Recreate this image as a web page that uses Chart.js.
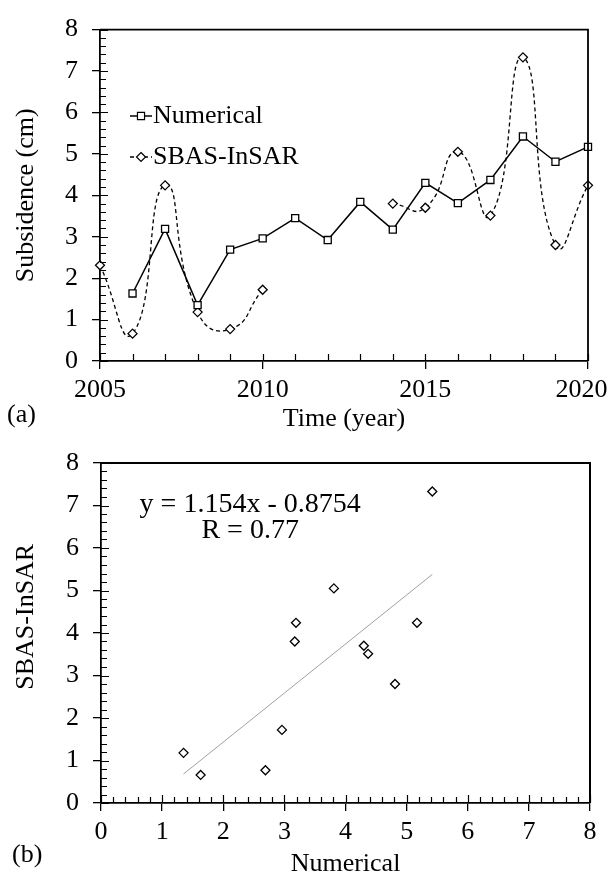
<!DOCTYPE html>
<html>
<head>
<meta charset="utf-8">
<script src="https://cdn.jsdelivr.net/npm/chart.js@4.4.1/dist/chart.umd.min.js"></script>
<style>
html,body{margin:0;padding:0;background:#fff;width:611px;height:872px;overflow:hidden;}
canvas{position:absolute;left:0;}
</style>
</head>
<body>
<canvas id="ca" width="611" height="440" style="top:0px"></canvas>
<canvas id="cb" width="611" height="450" style="top:430px"></canvas>
<script>
// ---------- data ----------
const years = [2005,2006,2007,2008,2009,2010,2011,2012,2013,2014,2015,2016,2017,2018,2019,2020];
const numerical = [null,1.63,3.19,1.35,2.69,2.96,3.45,2.92,3.84,3.17,4.30,3.81,4.37,5.42,4.81,5.17];
const sbasInsar = [2.31,0.66,4.24,1.18,0.77,1.72,null,null,null,3.80,3.70,5.05,3.51,7.33,2.80,4.24];
const seriesNames = ['Numerical','SBAS-InSAR'];
const yearTickLabels = [2005,2010,2015,2020];
const subsidenceTicks = [0,1,2,3,4,5,6,7,8];
const scatterTicks = [0,1,2,3,4,5,6,7,8];
const fitSlope = 1.154;
const fitIntercept = -0.8754;
const fitR = 0.77;
const titlesA = {x:'Time (year)', y:'Subsidence (cm)', panel:'(a)'};
const titlesB = {x:'Numerical', y:'SBAS-InSAR', panel:'(b)'};

// ---------- common ----------
const FONT = 'Liberation Serif, Times New Roman, serif';
Chart.defaults.font.family = FONT;
Chart.defaults.font.size = 26;
Chart.defaults.color = '#000';

function marker(ctx, style, x, y, r){
  ctx.save();
  ctx.beginPath();
  if(style === 'rect'){
    const s = r*Math.SQRT1_2;
    ctx.rect(x-s, y-s, 2*s, 2*s);
  } else {
    ctx.moveTo(x, y-r); ctx.lineTo(x+r, y); ctx.lineTo(x, y+r); ctx.lineTo(x-r, y); ctx.closePath();
  }
  ctx.fillStyle = '#fff'; ctx.fill();
  ctx.strokeStyle = '#000'; ctx.lineWidth = 1.2; ctx.stroke();
  ctx.restore();
}

const framePlugin = {
  id: 'frame',
  afterDraw(chart, args, opts){
    const ctx = chart.ctx;
    const {left, right, top, bottom} = chart.chartArea;
    ctx.save();
    ctx.strokeStyle = '#000';
    ctx.lineWidth = opts.frameWidth || 1.6;
    ctx.beginPath();
    ctx.moveTo(left, top); ctx.lineTo(right, top); ctx.lineTo(right, bottom);
    ctx.stroke();
    ctx.lineWidth = 1.2;
    (opts.inner || []).forEach(spec => {
      const sc = chart.scales[spec.scale];
      const n = Math.round((spec.to - spec.from)/spec.step);
      ctx.beginPath();
      for(let k=0;k<=n;k++){
        const v = spec.from + k*spec.step;
        const isMajor = (k % spec.majorEvery) === 0;
        const len = isMajor ? spec.majorLen : spec.minorLen;
        const p = Math.round(sc.getPixelForValue(v)) + 0.5;
        if(spec.scale === 'x'){
          ctx.moveTo(p, bottom); ctx.lineTo(p, bottom - len);
        } else {
          ctx.moveTo(left, p); ctx.lineTo(left + len, p);
        }
      }
      ctx.stroke();
    });
    // panel label
    if(opts.panel){
      ctx.font = '26px ' + FONT;
      ctx.fillStyle = '#000';
      ctx.textAlign = 'left';
      ctx.textBaseline = 'middle';
      ctx.fillText(opts.panel.text, opts.panel.x, opts.panel.y);
    }
    ctx.restore();
  }
};

const legendPlugin = {
  id: 'lineLegend',
  afterDraw(chart, args, opts){
    if(!opts.items) return;
    const ctx = chart.ctx;
    ctx.save();
    opts.items.forEach((it, i) => {
      const ds = chart.data.datasets[i];
      ctx.strokeStyle = '#000';
      ctx.lineWidth = ds.borderWidth;
      ctx.setLineDash(ds.borderDash || []);
      ctx.beginPath();
      ctx.moveTo(opts.x1, it.y); ctx.lineTo(opts.x2, it.y);
      ctx.stroke();
      ctx.setLineDash([]);
      marker(ctx, ds.pointStyle, opts.xm, it.y, ds.pointRadius);
      ctx.font = '26px ' + FONT;
      ctx.fillStyle = '#000';
      ctx.textAlign = 'left';
      ctx.textBaseline = 'middle';
      ctx.fillText(ds.label, opts.xt, it.y);
    });
    ctx.restore();
  }
};

const equationPlugin = {
  id: 'equation',
  afterDraw(chart, args, opts){
    if(!opts.lines) return;
    const ctx = chart.ctx;
    const xs = chart.scales.x, ys = chart.scales.y;
    ctx.save();
    ctx.font = opts.size + 'px ' + FONT;
    ctx.fillStyle = '#000';
    ctx.textAlign = 'center';
    ctx.textBaseline = 'middle';
    opts.lines.forEach(l => ctx.fillText(l.text, xs.getPixelForValue(l.x), ys.getPixelForValue(l.y)));
    ctx.restore();
  }
};

// ---------- chart (a) ----------
const dataNum = years.map((x,i) => ({x, y: numerical[i]}));
const dataSbas = years.map((x,i) => ({x, y: sbasInsar[i]}));

new Chart(document.getElementById('ca'), {
  type: 'line',
  data: {
    datasets: [
      {label: seriesNames[0], data: dataNum, borderColor:'#000', borderWidth:1.5, tension:0,
       pointStyle:'rect', pointRadius:5, pointBorderWidth:1.3, pointBorderColor:'#000',
       pointBackgroundColor:'#fff', spanGaps:false, clip:false, order:1},
      {label: seriesNames[1], data: dataSbas, borderColor:'#000', borderWidth:1.3, borderDash:[4,3],
       tension:0.55, pointStyle:'rectRot', pointRadius:4.5, pointBorderWidth:1.3, pointBorderColor:'#000',
       pointBackgroundColor:'#fff', spanGaps:false, clip:false, order:2}
    ]
  },
  options: {
    responsive:false, animation:false, events:[],
    layout:{padding:{top:21, right:23, left:0, bottom:0}},
    plugins:{
      legend:{display:false}, tooltip:{enabled:false},
      frame:{
        frameWidth:1.8,
        inner:[
          {scale:'y', from:0, to:8, step:0.2, majorEvery:5, minorLen:6, majorLen:8},
          {scale:'x', from:2005, to:2020, step:1, majorEvery:5, minorLen:7, majorLen:7}
        ],
        panel:{text:titlesA.panel, x:7, y:415}
      },
      lineLegend:{x1:130, x2:152, xm:141, xt:153, items:[{y:116},{y:157}]}
    },
    scales:{
      x:{
        type:'linear', min:2005, max:2020,
        afterBuildTicks: s => { s.ticks = yearTickLabels.map(v => ({value:v})); },
        ticks:{padding:6, maxRotation:0, autoSkip:false,
               callback: v => v === yearTickLabels[yearTickLabels.length-1] ? String(v) + '\u2007' : String(v)},
        grid:{display:true, drawOnChartArea:false, drawTicks:true, tickLength:8, color:'#000', lineWidth:1.3},
        border:{display:true, color:'#000', width:1.8},
        title:{display:true, text:titlesA.x, padding:{top:0, bottom:5}},
        afterFit: s => { s.height = 79; s.paddingLeft = 0; s.paddingRight = 0; }
      },
      y:{
        type:'linear', min:0, max:8,
        afterBuildTicks: s => { s.ticks = subsidenceTicks.map(v => ({value:v})); },
        ticks:{padding:14, autoSkip:false},
        grid:{display:true, drawOnChartArea:false, drawTicks:true, tickLength:8, color:'#000', lineWidth:1.3},
        border:{display:true, color:'#000', width:1.8},
        title:{display:true, text:titlesA.y, padding:{top:11, bottom:0}},
        afterFit: s => { s.width = 100; }
      }
    }
  },
  plugins:[framePlugin, legendPlugin]
});

// ---------- chart (b) ----------
const pairs = years.map((y,i) => ({x: numerical[i], y: sbasInsar[i]}))
                   .filter(p => p.x !== null && p.y !== null);
const fitX = [Math.min(...pairs.map(p => p.x)), Math.max(...pairs.map(p => p.x))];
const fitLine = fitX.map(x => ({x, y: fitSlope*x + fitIntercept}));

new Chart(document.getElementById('cb'), {
  type: 'scatter',
  data: {
    datasets: [
      {label: seriesNames[1], data: pairs, showLine:false, pointStyle:'rectRot', pointRadius:4.5,
       pointBorderWidth:1.3, pointBorderColor:'#000', pointBackgroundColor:'#fff', clip:false, order:1},
      {type:'line', label:'fit', data: fitLine, borderColor:'#a0a0a0', borderWidth:1, pointRadius:0, order:2}
    ]
  },
  options: {
    responsive:false, animation:false, events:[],
    layout:{padding:{top:33, right:21, left:0, bottom:0}},
    plugins:{
      legend:{display:false}, tooltip:{enabled:false},
      frame:{
        frameWidth:2,
        inner:[
          {scale:'y', from:0, to:8, step:0.2, majorEvery:5, minorLen:6, majorLen:8},
          {scale:'x', from:0, to:8, step:0.2, majorEvery:5, minorLen:6, majorLen:8}
        ],
        panel:{text:titlesB.panel, x:12, y:425}
      },
      equation:{size:28, lines:[
        {text:'y = ' + fitSlope + 'x - ' + Math.abs(fitIntercept), x:2.44, y:7.03},
        {text:'R = ' + fitR, x:2.44, y:6.40}
      ]}
    },
    scales:{
      x:{
        type:'linear', min:0, max:8,
        afterBuildTicks: s => { s.ticks = scatterTicks.map(v => ({value:v})); },
        ticks:{padding:6, maxRotation:0, autoSkip:false},
        grid:{display:true, drawOnChartArea:false, drawTicks:true, tickLength:8, color:'#000', lineWidth:1.3},
        border:{display:true, color:'#000', width:1.8},
        title:{display:true, text:titlesB.x, padding:{top:0, bottom:0}},
        afterFit: s => { s.height = 77; s.paddingLeft = 0; s.paddingRight = 0; }
      },
      y:{
        type:'linear', min:0, max:8,
        afterBuildTicks: s => { s.ticks = scatterTicks.map(v => ({value:v})); },
        ticks:{padding:14, autoSkip:false},
        grid:{display:true, drawOnChartArea:false, drawTicks:true, tickLength:8, color:'#000', lineWidth:1.3},
        border:{display:true, color:'#000', width:1.8},
        title:{display:true, text:'     ' + titlesB.y, padding:{top:11, bottom:0}},
        afterFit: s => { s.width = 101; }
      }
    }
  },
  plugins:[framePlugin, equationPlugin]
});
</script>
</body>
</html>
